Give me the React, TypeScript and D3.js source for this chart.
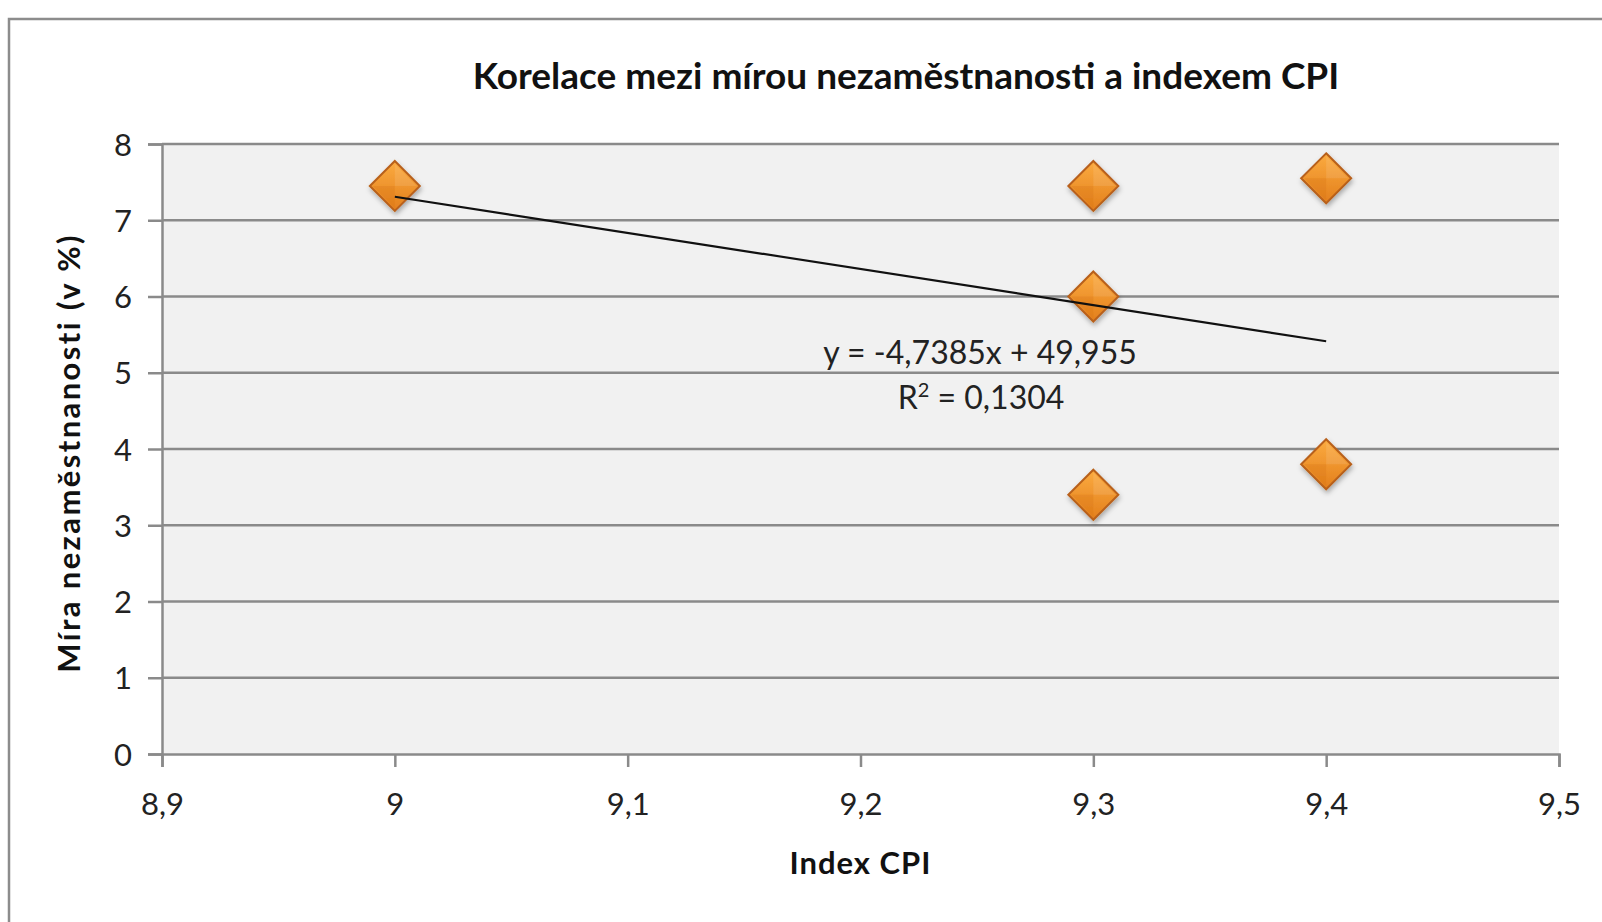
import React, { useEffect, useRef } from "react";
import * as d3 from "d3";

const title = "Korelace mezi mírou nezaměstnanosti a indexem CPI";
const xTitle = "Index CPI";
const yTitle = "Míra nezaměstnanosti (v %)";
const cpiValues = [9.0, 9.3, 9.3, 9.3, 9.4, 9.4];
const unemploymentValues = [7.45, 7.45, 6.0, 3.4, 7.55, 3.8];
const xTicks = [8.9, 9.0, 9.1, 9.2, 9.3, 9.4, 9.5];
const yTicks = [0, 1, 2, 3, 4, 5, 6, 7, 8];
const trendSlope = -4.7385;
const trendIntercept = 49.955;
const equationLabel = "y = -4,7385x + 49,955";
const r2Value = "0,1304";

const W = 1602;
const H = 922;
const FONT = "Lato, 'Open Sans', sans-serif";

export default function App() {
  const ref = useRef<SVGSVGElement | null>(null);

  useEffect(() => {
    const svg = d3.select(ref.current);
    svg.selectAll("*").remove();

    const left = 162, right = 1559, top = 144, bottom = 754;
    const x = d3.scaleLinear().domain([8.9, 9.5]).range([left, right]);
    const y = d3.scaleLinear().domain([0, 8]).range([bottom, top]);
    const fmt = (v: number) => d3.format(".1~f")(v).replace(".", ",");

    const defs = svg.append("defs");
    const grad = defs.append("linearGradient").attr("id", "dg").attr("x1", 0).attr("y1", 0).attr("x2", 0).attr("y2", 1);
    grad.append("stop").attr("offset", "0%").attr("stop-color", "#fbab40");
    grad.append("stop").attr("offset", "100%").attr("stop-color", "#e37f1c");
    const f = defs.append("filter").attr("id", "sh").attr("x", "-50%").attr("y", "-50%").attr("width", "200%").attr("height", "200%");
    f.append("feDropShadow").attr("dx", 1).attr("dy", 3).attr("stdDeviation", 2.5).attr("flood-color", "#000").attr("flood-opacity", 0.3);

    // outer frame
    svg.append("rect").attr("x", 9).attr("y", 19).attr("width", W).attr("height", H)
      .attr("fill", "#fff").attr("stroke", "#8c8c8c").attr("stroke-width", 2.5);

    // plot area
    svg.append("rect").attr("x", left).attr("y", top).attr("width", right - left).attr("height", bottom - top)
      .attr("fill", "#f1f1f1");

    // gridlines
    svg.append("g").selectAll("line").data(yTicks.filter(t => t > 0)).join("line")
      .attr("x1", left).attr("x2", right).attr("y1", d => y(d)).attr("y2", d => y(d))
      .attr("stroke", "#8a8a8a").attr("stroke-width", 2.5);

    // y axis
    const yAxis = svg.append("g").attr("transform", `translate(${left},0)`)
      .call(d3.axisLeft(y).tickValues(yTicks).tickSize(14).tickPadding(16).tickFormat(d => String(d)));
    yAxis.select(".domain").attr("stroke", "#8a8a8a").attr("stroke-width", 2.5);
    yAxis.selectAll(".tick line").attr("stroke", "#8a8a8a").attr("stroke-width", 2.5);
    yAxis.selectAll(".tick text").attr("font-family", FONT).attr("font-size", 31).attr("fill", "#222").attr("dy", "0.36em");

    // x axis
    const xAxis = svg.append("g").attr("transform", `translate(0,${bottom})`)
      .call(d3.axisBottom(x).tickValues(xTicks).tickSize(13).tickPadding(26).tickFormat(d => fmt(d as number)));
    xAxis.select(".domain").attr("stroke", "#8a8a8a").attr("stroke-width", 2.5);
    xAxis.selectAll(".tick line").attr("stroke", "#8a8a8a").attr("stroke-width", 2.5);
    xAxis.selectAll(".tick text").attr("font-family", FONT).attr("font-size", 31).attr("fill", "#222");

    // points
    const pts = cpiValues.map((c, i) => ({ c, u: unemploymentValues[i] }));
    const r = 25;
    const g = svg.append("g").selectAll("g").data(pts).join("g")
      .attr("transform", d => `translate(${x(d.c)},${y(d.u)})`)
      .attr("filter", "url(#sh)");
    g.append("path").attr("d", `M0,${-r}L${r},0L0,${r}L${-r},0Z`)
      .attr("fill", "url(#dg)").attr("stroke", "#b8601a").attr("stroke-width", 2);
    g.append("path").attr("d", `M${-r + 3},0L0,0L0,${r - 3}Z`).attr("fill", "#d87414").attr("opacity", 0.3);
    g.append("path").attr("d", `M0,${-r + 3}L${r - 3},0L0,0Z`).attr("fill", "#fff").attr("opacity", 0.1);

    // trend line
    const tx = [9.0, 9.4];
    svg.append("line")
      .attr("x1", x(tx[0])).attr("y1", y(trendSlope * tx[0] + trendIntercept))
      .attr("x2", x(tx[1])).attr("y2", y(trendSlope * tx[1] + trendIntercept))
      .attr("stroke", "#111").attr("stroke-width", 2.2);

    // equation
    svg.append("text").attr("x", 980).attr("y", 364).attr("text-anchor", "middle")
      .attr("font-family", FONT).attr("font-size", 32).attr("fill", "#222").text(equationLabel);
    const rt = svg.append("text").attr("x", 981).attr("y", 409).attr("text-anchor", "middle")
      .attr("font-family", FONT).attr("font-size", 32).attr("fill", "#222");
    rt.append("tspan").text("R");
    rt.append("tspan").attr("font-size", 20).attr("dy", -12).text("2");
    rt.append("tspan").attr("dy", 12).text(" = " + r2Value);

    // titles
    svg.append("text").attr("x", 906).attr("y", 89).attr("text-anchor", "middle")
      .attr("font-family", FONT).attr("font-weight", "bold").attr("font-size", 37).attr("fill", "#111").text(title);
    svg.append("text").attr("x", (left + right) / 2).attr("y", 874).attr("text-anchor", "middle")
      .attr("font-family", FONT).attr("font-weight", "bold").attr("font-size", 31).attr("letter-spacing", 1).attr("fill", "#111").text(xTitle);
    svg.append("text").attr("transform", `translate(80,453) rotate(-90)`).attr("text-anchor", "middle")
      .attr("font-family", FONT).attr("font-weight", "bold").attr("font-size", 31).attr("letter-spacing", 2.4).attr("fill", "#111").text(yTitle);
  }, []);

  return (
    <svg ref={ref} width={W} height={H} style={{ position: "absolute", left: 0, top: 0, background: "#fff" }} />
  );
}
